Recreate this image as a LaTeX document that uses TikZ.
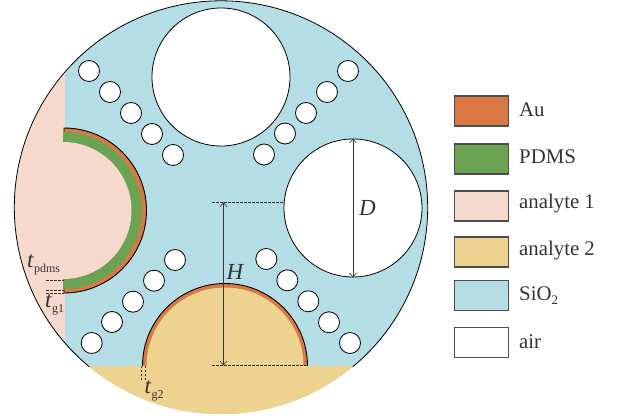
\documentclass[tikz,border=0pt]{standalone}
\usepackage{fontspec}
\setmainfont{Liberation Serif}
\usetikzlibrary{arrows.meta}
\definecolor{auCol}{HTML}{D97842}
\definecolor{pdmsCol}{HTML}{6CA353}
\definecolor{anaOne}{HTML}{F6D9CD}
\definecolor{anaTwo}{HTML}{EED290}
\definecolor{silica}{HTML}{B5DDE6}
\definecolor{inkCol}{HTML}{333333}
\newcommand{\subtxt}[2]{\raisebox{-4.5pt}{\fontsize{#1}{14}\selectfont #2}}
\tikzset{
  hole/.style={circle,draw=black,fill=white,line width=0.8,inner sep=0,minimum size=21},
  bighole/.style={hole,minimum size=138},
  legendbox/.style={draw=black!70,line width=1.1,inner sep=0,minimum width=54,minimum height=30},
  legendtext/.style={anchor=west,inner sep=0,text=inkCol,font=\fontsize{20.8}{24}\selectfont},
  dimtext/.style={inner sep=0,text=inkCol,font=\fontsize{23}{24}\selectfont},
  dimline/.style={line width=0.6,inkCol,{Straight Barb[length=4,width=7]}-{Straight Barb[length=4,width=7]}},
  dashline/.style={line width=0.5,inkCol,dash pattern=on 2.5 off 1.5},
}
\begin{document}
\begin{tikzpicture}[x=1pt,y=-1pt]
  \useasboundingbox (0,0) rectangle (625,419);
  % fibre body
  \fill[silica] (221,207.5) circle[radius=206.7];
  \begin{scope}
    \clip (221,207.5) circle[radius=206.7];
    \fill[anaOne] (0,0) rectangle (65,419);
    \fill[anaTwo] (0,366) rectangle (625,419);
  \end{scope}
  \draw[line width=0.8] (221,207.5) ++(129.6:206.7) arc[start angle=129.6,end angle=410.4,radius=206.7];
  % left core
  \fill[auCol] (64,128) arc[start angle=-90,end angle=90,radius=82.5] -- cycle;
  \fill[pdmsCol] (63,131.7) arc[start angle=-90,end angle=90,radius=78.8] -- cycle;
  \fill[anaOne] (63,142) arc[start angle=-90,end angle=90,radius=68.5] -- cycle;
  \draw[line width=0.9] (64,131.7) -- (64,128) arc[start angle=-90,end angle=90,radius=82.5] -- (64,289.3);
  % bottom core
  \fill[auCol] (142.5,366) arc[start angle=180,end angle=360,radius=82.5] -- cycle;
  \fill[anaTwo] (146.5,366) arc[start angle=180,end angle=360,radius=78.5] -- cycle;
  \draw[line width=0.9] (142.5,366) arc[start angle=180,end angle=360,radius=82.5];
  % air holes
  \node[bighole] (topHole) at (221,77) {};
  \node[bighole] (rightHole) at (353,208) {};
  \foreach \i/\px/\py in {1/89/71,2/110/92,3/131/113,4/152/134,5/173/155,
                          6/348/71,7/327/92,8/306/113,9/285/133.5,10/264/154.5,
                          11/175/260,12/154/280.7,13/133/301.7,14/112/322,15/91.7/343,
                          16/266.3/259,17/287.3/280.3,18/308.3/301.3,19/329/322.3,20/350/343}
    \node[hole] (h\i) at (\px,\py) {};
  % dimensions
  \coordinate (hTop) at (223.5,202.3);
  \coordinate (hBot) at (223.5,365.5);
  \coordinate (hDashL) at (212,202.3);
  \coordinate (bDashL) at (212,365.5);
  \coordinate (bDashR) at (306,365.5);
  \draw[dimline] (rightHole.north) -- (rightHole.south);
  \draw[dimline] (hTop) -- (hBot);
  \draw[dashline] (hDashL) -- (hDashL -| rightHole.west);
  \draw[dashline] (bDashL) -- (bDashR);
  \coordinate (pA) at (46,280.7);
  \coordinate (pB) at (64,280.7);
  \coordinate (gA) at (46,290);
  \coordinate (gB) at (64,290);
  \coordinate (gC) at (46,293);
  \coordinate (gD) at (64,293);
  \draw[dashline] (pA) -- (pB);
  \draw[dashline] (gA) -- (gB);
  \draw[dashline] (gC) -- (gD);
  \coordinate (vA) at (141.7,366);
  \coordinate (vB) at (141.7,381);
  \coordinate (vC) at (145.7,366);
  \coordinate (vD) at (145.7,381);
  \draw[dashline] (vA) -- (vB);
  \draw[dashline] (vC) -- (vD);
  \node[dimtext] (dLabel) at (367.5,207.5) {\textit{D}};
  \node[dimtext] (hLabel) at (235.5,272) {\textit{H}};
  \node[dimtext,anchor=west] (tpLabel) at (27,265) {\textit{t}\subtxt{12}{pdms}};
  \node[dimtext,anchor=west] (tgOne) at (45,305) {\textit{t}\subtxt{12}{g1}};
  \node[dimtext,anchor=west] (tgTwo) at (144.5,391) {\textit{t}\subtxt{12}{g2}};
  % legend
  \node[legendbox,fill=auCol] (auBox) at (481.5,111) {};
  \node[legendbox,fill=pdmsCol] (pdmsBox) at (481.5,159) {};
  \node[legendbox,fill=anaOne] (anaOneBox) at (481.5,206) {};
  \node[legendbox,fill=anaTwo] (anaTwoBox) at (481.5,252) {};
  \node[legendbox,fill=silica] (sioBox) at (481.5,295.5) {};
  \node[legendbox,fill=white] (airBox) at (481.5,342.5) {};
  \node[legendtext] (auText) at (519,109.5) {Au};
  \node[legendtext] (pdmsText) at (519,156.5) {PDMS};
  \node[legendtext] (anaOneText) at (519,203.5) {analyte 1};
  \node[legendtext] (anaTwoText) at (519,250.5) {analyte 2};
  \node[legendtext] (sioText) at (519,295.5) {SiO\subtxt{13}{2}};
  \node[legendtext] (airText) at (519,341.5) {air};
\end{tikzpicture}
\end{document}
